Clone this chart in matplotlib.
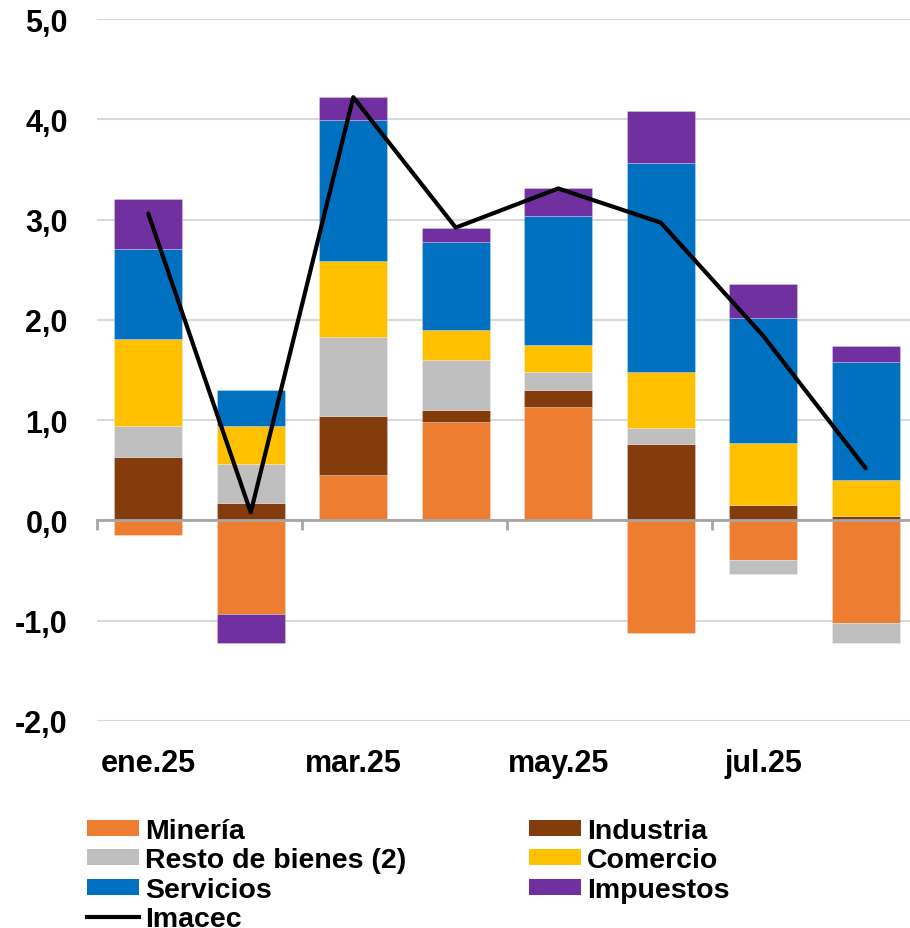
import matplotlib
matplotlib.use("Agg")
import matplotlib.pyplot as plt
import numpy as np
from matplotlib.patches import Patch
from matplotlib.lines import Line2D

plt.rcParams['font.family'] = ['Liberation Sans', 'DejaVu Sans']
plt.rcParams['font.weight'] = 'bold'

categories = ["ene.25", "feb.25", "mar.25", "abr.25", "may.25", "jun.25", "jul.25", "ago.25"]
mineria   = [-0.15, -0.93, 0.45, 0.98, 1.13, -1.12, -0.39, -1.02]
industria = [0.63, 0.17, 0.59, 0.12, 0.17, 0.76, 0.15, 0.04]
resto     = [0.31, 0.39, 0.79, 0.50, 0.18, 0.16, -0.14, -0.20]
comercio  = [0.87, 0.38, 0.76, 0.30, 0.27, 0.56, 0.62, 0.36]
servicios = [0.90, 0.36, 1.40, 0.88, 1.29, 2.08, 1.25, 1.18]
impuestos = [0.50, -0.29, 0.23, 0.14, 0.27, 0.52, 0.34, 0.16]
imacec    = [3.06, 0.08, 4.22, 2.92, 3.31, 2.97, 1.84, 0.52]

series_names = ["Minería", "Industria", "Resto de bienes (2)", "Comercio", "Servicios", "Impuestos"]
series_vals = [mineria, industria, resto, comercio, servicios, impuestos]
series_colors = ["#ED7D31", "#843C0C", "#BFBFBF", "#FFC000", "#0070C0", "#7030A0"]

yticks = [-2, -1, 0, 1, 2, 3, 4, 5]
ytick_labels = ["-2,0", "-1,0", "0,0", "1,0", "2,0", "3,0", "4,0", "5,0"]
label_idx = [0, 2, 4, 6]

W, H = 910, 929
fig = plt.figure(figsize=(W/100, H/100), dpi=100)
ax = fig.add_axes([97/W, 207/H, 820/W, 702/H])

x = np.arange(len(categories))
pos_base = np.zeros(len(categories))
neg_base = np.zeros(len(categories))
handles = {}
for name, vals, col in zip(series_names, series_vals, series_colors):
    v = np.array(vals)
    bottoms = np.where(v >= 0, pos_base, neg_base)
    ax.bar(x, v, width=0.66, bottom=bottoms, color=col, linewidth=0.5,
           edgecolor=(1, 1, 1, 0.35), zorder=2)
    handles[name] = Patch(facecolor=col, edgecolor='none')
    pos_base = np.where(v >= 0, pos_base + v, pos_base)
    neg_base = np.where(v < 0, neg_base + v, neg_base)

ax.plot(x, imacec, color='black', linewidth=3, zorder=3, solid_capstyle='round')

ax.set_xlim(-0.5, len(categories) - 0.5)
ax.set_ylim(-2, 5)
ax.set_yticks(yticks)
ax.set_yticklabels(ytick_labels)
ax.yaxis.grid(True, color='#D9D9D9', linewidth=1.5, zorder=0)
ax.set_axisbelow(True)

for s in ['top', 'right', 'left']:
    ax.spines[s].set_visible(False)
ax.spines['bottom'].set_position(('data', 0))
ax.spines['bottom'].set_color('#A6A6A6')
ax.spines['bottom'].set_linewidth(2)
ax.spines['bottom'].set_zorder(2.5)

ax.set_xticks([x[i] for i in label_idx])
ax.set_xticklabels([categories[i] for i in label_idx])
ax.set_xticks(np.arange(-0.5, len(categories), 2), minor=True)
ax.tick_params(axis='x', which='major', length=0, pad=164, labelsize=22)
ax.tick_params(axis='x', which='minor', length=7, width=2, color='#A6A6A6', direction='out')
ax.tick_params(axis='y', length=0, pad=21, labelsize=22)

fs = 20.5
common = dict(loc='upper left', frameon=False, fontsize=fs, handlelength=1.82,
              handleheight=0.5, handletextpad=0.21, labelspacing=0.12,
              borderpad=0, borderaxespad=0)
imacec_handle = Line2D([0], [0], color='black', linewidth=3)
leg1 = fig.legend([handles["Minería"], handles["Resto de bienes (2)"], handles["Servicios"], imacec_handle],
                  ["Minería", "Resto de bienes (2)", "Servicios", "Imacec"],
                  bbox_to_anchor=(87/W, (929-819)/H), **common)
leg2 = fig.legend([handles["Industria"], handles["Comercio"], handles["Impuestos"]],
                  ["Industria", "Comercio", "Impuestos"],
                  bbox_to_anchor=(529/W, (929-819)/H), **common)

fig.savefig("out.png", dpi=100)
